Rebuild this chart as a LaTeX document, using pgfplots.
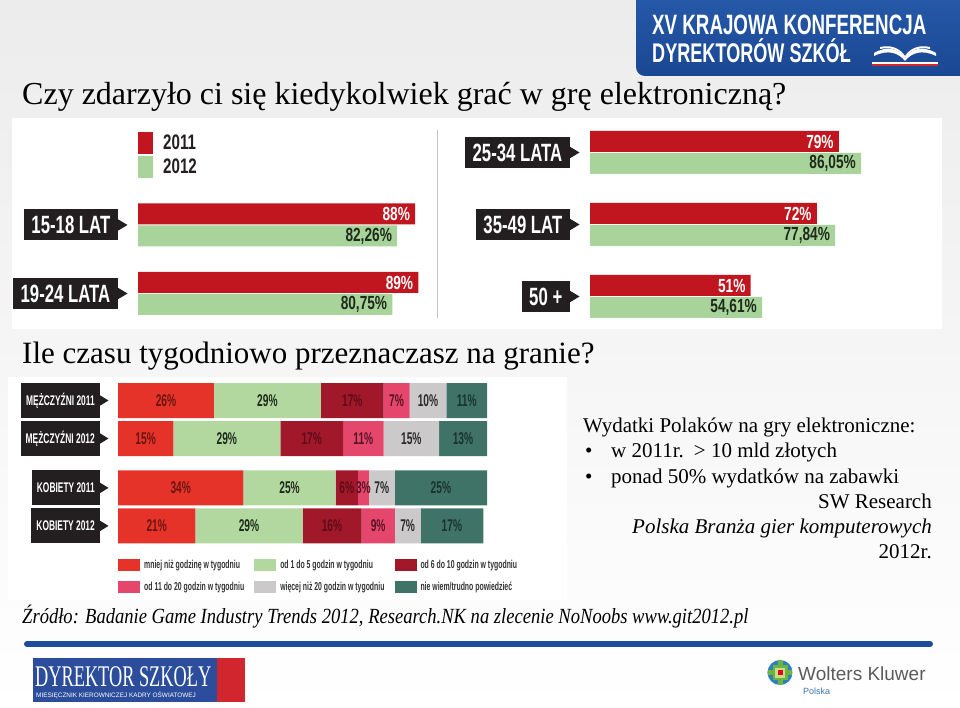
\documentclass[border=0pt]{standalone}
\usepackage{pgfplots}
\usepackage{pgfplotstable}
\pgfplotsset{compat=1.18}
\usepackage{fontspec}
\setmainfont{Liberation Serif}
\newfontfamily\condA{Liberation Sans}[UprightFont={* Bold}, FakeStretch=0.67]
\newfontfamily\condN{Liberation Sans}[UprightFont={* Bold}, FakeStretch=0.72]
\newfontfamily\condB{Liberation Sans}[UprightFont={* Bold}, FakeStretch=0.6]
\newfontfamily\srcfont{Liberation Serif}[UprightFont={* Italic}, FakeStretch=0.86]
\newfontfamily\logofont{Liberation Serif}[FakeStretch=0.61]
\newfontfamily\lsans{Liberation Sans}
\newcommand\fs[1]{\fontsize{#1}{#1}\selectfont}

\definecolor{bgtop}{HTML}{ECECEC}
\definecolor{bgmid}{HTML}{F2F2F2}
\definecolor{lblack}{HTML}{231F20}
\definecolor{tred}{HTML}{C1161F}
\definecolor{tgreen}{HTML}{A8D49C}
\definecolor{tgtext}{HTML}{1E2A1A}
\definecolor{sred}{HTML}{E6332A}
\definecolor{sgreen}{HTML}{B2D8A0}
\definecolor{sdred}{HTML}{A2182B}
\definecolor{spink}{HTML}{E5466B}
\definecolor{sgray}{HTML}{CBC9CA}
\definecolor{steal}{HTML}{3F7367}
\definecolor{tl1}{HTML}{6B1510}
\definecolor{tl2}{HTML}{1E2A1C}
\definecolor{tl3}{HTML}{5E0C16}
\definecolor{tl4}{HTML}{5A1326}
\definecolor{tl5}{HTML}{2A2A2A}
\definecolor{tl6}{HTML}{1B332D}
\definecolor{legtext}{HTML}{333333}
\definecolor{hblueT}{HTML}{2558A8}
\definecolor{hblueB}{HTML}{1A4793}
\definecolor{lineblue}{HTML}{1C4C9A}
\definecolor{dsblue}{HTML}{2B4D9B}
\definecolor{dsred}{HTML}{D1262E}
\definecolor{wkgray}{HTML}{5B5B5B}
\definecolor{wkblue}{HTML}{3C78B5}
\definecolor{wkblue2}{HTML}{2F7FC1}
\definecolor{wkgreen}{HTML}{6CB33F}
\definecolor{wklgreen}{HTML}{C6E08A}
\definecolor{wkred}{HTML}{E2001A}

% Czy zdarzylo ci sie ... (percent)
\pgfplotstableread{
pos red green
2 88 82.26
1 89 80.75
}\agesleft
\pgfplotstableread{
pos red green
3 79 86.05
2 72 77.84
1 51 54.61
}\agesright
% Ile czasu tygodniowo ... (percent)
\pgfplotstableread{
pos less one six eleven more dunno
4   26 29 17 7  10 11
3   15 29 17 11 15 13
1.7 34 25 6  3  7  25
0.7 21 29 16 9  7  17
}\hours

\pgfplotsset{
  catA/.style={anchor=east, xshift=-20pt, fill=lblack, text=white, font=\condA\fs{25},
    inner xsep=7.5pt, inner ysep=0pt, minimum height=31pt, text height=18pt, text depth=0pt},
  catB/.style={anchor=east, xshift=-18pt, fill=lblack, text=white, font=\condB\fs{14},
    inner xsep=5pt, inner ysep=0pt, minimum height=35pt, text height=10pt, text depth=0pt},
  hidden/.style={axis line style={draw=none}, major tick length=0pt, xtick=\empty,
    enlargelimits=false, clip=false, scale only axis,
    /pgf/number format/assume math mode=true},
  topbars/.style={hidden, xbar, bar width=21pt, width=315pt, xmin=0, xmax=100,
    yticklabel style={catA},
    legend style={draw=none, fill=none, inner sep=0pt, row sep=0pt,
      font=\condN\fs{21}, text=lblack,
      nodes={inner sep=0pt, text height=19.5pt, text depth=4.5pt},
      /tikz/every odd column/.append style={column sep=10pt}},
    legend cell align=left},
  toplegimg/.style={legend image code/.code={\fill[##1] (0pt,-11.5pt) rectangle (15pt,10.5pt);}},
  seglegimg/.style={legend image code/.code={\fill[##1] (0pt,-6pt) rectangle (22pt,6pt);}},
  red11/.style={fill=tred, draw=none, bar shift=11pt, toplegimg,
     nodes near coords={\pgfmathprintnumber[fixed,precision=0]{\pgfplotspointmeta}\%},
     every node near coord/.append style={anchor=east, text=white, font=\condN\fs{19}, inner xsep=5pt, inner ysep=0pt}},
  green12/.style={fill=tgreen, draw=none, bar shift=-11pt, toplegimg,
     nodes near coords={\pgfmathprintnumber[fixed,fixed zerofill,precision=2,use comma]{\pgfplotspointmeta}\%},
     every node near coord/.append style={anchor=east, text=tgtext, font=\condN\fs{19}, inner xsep=5pt, inner ysep=0pt}},
}

\newcommand\seg[4]{%
  \addplot[fill=#2, draw=none, seglegimg,
    point meta=explicit symbolic,
    nodes near coords={\pgfplotspointmeta\%},
    every node near coord/.append style={anchor=center, text=#3, font=\condB\fs{17}, inner sep=0pt}]
    table[x=#1, y=pos, meta=#1]{\hours};
  \addlegendentry{#4}
}
% small pointer triangle right of a label box: base x, centre y, width, height
\newcommand\ptr[4]{\fill[lblack] (#1,#2+#4/2) -- (#1+#3,#2) -- (#1,#2-#4/2) -- cycle;}

\begin{document}
\begin{tikzpicture}[x=1pt,y=1pt]
% background
\shade[top color=bgtop, middle color=bgmid, bottom color=white] (0,0) rectangle (960,-708);
\fill[white] (12,-118) rectangle (942,-329);
\fill[white] (8,-377) rectangle (567,-600);

% header
\shade[top color=hblueT, bottom color=hblueB] (960,0) -- (636,0) -- (636,-67) arc[start angle=180, end angle=270, radius=9] -- (960,-76) -- cycle;
\node[anchor=base west, inner sep=0, text=white] at (652,-35) {\condA\fs{28}XV KRAJOWA KONFERENCJA};
\node[anchor=base west, inner sep=0, text=white] at (652,-63) {\condA\fs{27}DYREKTORÓW SZKÓŁ};
% book icon
\fill[white] (874,-53) .. controls (888,-45) and (899,-49) .. (905,-58) .. controls (911,-49) and (922,-45) .. (936,-53) -- (936,-56) .. controls (922,-49) and (911,-53) .. (905,-61) .. controls (899,-53) and (888,-49) .. (874,-56) -- cycle;
\fill[white] (880,-47) .. controls (893,-44) and (901,-50) .. (905,-56) .. controls (909,-50) and (917,-44) .. (930,-47) -- (930,-49) .. controls (917,-46) and (909,-52) .. (905,-58) .. controls (901,-52) and (893,-46) .. (880,-49) -- cycle;
\fill[white] (872,-62) rectangle (938,-64);
\fill[dsred] (872,-64.5) rectangle (938,-66.5);

% titles
\node[anchor=base west, inner sep=0] at (22,-105) {\fs{32}Czy zdarzyło ci się kiedykolwiek grać w grę elektroniczną?};
\node[anchor=base west, inner sep=0] at (22,-363) {\fs{31}Ile czasu tygodniowo przeznaczasz na granie?};

% divider
\draw[line width=0.8pt, gray!45] (437,-130) -- (437,-318);

% top-left bars
\begin{axis}[topbars, at={(138pt,-190.75pt)}, anchor=north west, height=137pt,
  ymin=0.5, ymax=2.5, ytick={1,2}, yticklabels={19-24 LATA,15-18 LAT},
  legend style={at={(axis description cs:0,1.4434)}, anchor=north west}]
\addplot[red11] table[x=red, y=pos]{\agesleft};
\addlegendentry{2011}
\addplot[green12] table[x=green, y=pos]{\agesleft};
\addlegendentry{2012}
\end{axis}

% top-right bars
\begin{axis}[topbars, at={(590pt,-116.5pt)}, anchor=north west, height=216pt,
  ymin=0.5, ymax=3.5, ytick={1,2,3}, yticklabels={50 +,35-49 LAT,25-34 LATA}]
\addplot[red11] table[x=red, y=pos]{\agesright};
\addplot[green12] table[x=green, y=pos]{\agesright};
\end{axis}

% stacked bars
\begin{axis}[hidden, xbar stacked, bar width=35pt, width=369pt, height=163.4pt,
  at={(118pt,-381.5pt)}, anchor=north west, xmin=0, xmax=100, ymin=0.2, ymax=4.5,
  ytick={4,3,1.7,0.7},
  yticklabels={MĘŻCZYŹNI 2011,MĘŻCZYŹNI 2012,KOBIETY 2011,KOBIETY 2012},
  yticklabel style={catB},
  legend columns=3,
  legend style={at={(axis description cs:0,-0.0863)}, anchor=north west, draw=none, fill=none,
    inner sep=0pt, row sep=9.5pt, font=\condB\fs{11.5}, text=legtext,
    nodes={inner sep=0pt, text height=9.5pt, text depth=2.5pt},
    /tikz/every odd column/.append style={column sep=4pt},
    /tikz/every even column/.append style={column sep=10pt}},
  legend cell align=left]
\seg{less}{sred}{tl1}{mniej niż godzinę w tygodniu}
\seg{one}{sgreen}{tl2}{od 1 do 5 godzin w tygodniu}
\seg{six}{sdred}{tl3}{od 6 do 10 godzin w tygodniu}
\seg{eleven}{spink}{tl4}{od 11 do 20 godzin w tygodniu}
\seg{more}{sgray}{tl5}{więcej niż 20 godzin w tygodniu}
\seg{dunno}{steal}{tl6}{nie wiem/trudno powiedzieć}
\end{axis}

% pointer triangles of the category boxes
\ptr{117.5}{-225}{10}{12}
\ptr{117.5}{-293.5}{10}{12}
\ptr{569.5}{-152.5}{10}{12}
\ptr{569.5}{-224.5}{10}{12}
\ptr{569.5}{-296.5}{10}{12}
\ptr{99.5}{-400.5}{9}{11}
\ptr{99.5}{-438.5}{9}{11}
\ptr{99.5}{-487.9}{9}{11}
\ptr{99.5}{-525.9}{9}{11}

% right text block
\node[anchor=base west, inner sep=0] at (583,-432) {\fs{21}Wydatki Polaków na gry elektroniczne:};
\node[anchor=base west, inner sep=0] at (585,-457) {\fs{21}•};
\node[anchor=base west, inner sep=0] at (611,-457) {\fs{21}w 2011r.\hspace{10pt}> 10 mld złotych};
\node[anchor=base west, inner sep=0] at (585,-483) {\fs{21}•};
\node[anchor=base west, inner sep=0] at (611,-483) {\fs{21}ponad 50\% wydatków na zabawki};
\node[anchor=base east, inner sep=0] at (932,-508) {\fs{21}SW Research};
\node[anchor=base east, inner sep=0] at (932,-533) {\fs{21}\itshape Polska Branża gier komputerowych};
\node[anchor=base east, inner sep=0] at (932,-558) {\fs{21}2012r.};

% source
\node[anchor=base west, inner sep=0] at (22,-623) {\srcfont\fs{21.6}Źródło: Badanie Game Industry Trends 2012, Research.NK na zlecenie NoNoobs www.git2012.pl};

% bottom line
\draw[line width=6pt, lineblue, line cap=round] (27,-644) -- (930,-644);

% Dyrektor Szkoly logo
\fill[dsblue] (33,-658) rectangle (217,-702);
\fill[dsred] (217,-658) rectangle (245,-702);
\node[anchor=base west, inner sep=0, text=white] at (35,-686) {\logofont\fs{30}DYREKTOR SZKOŁY};
\node[anchor=base west, inner sep=0, text=white] at (36,-697.5) {\lsans\fs{6.4}MIESIĘCZNIK KIEROWNICZEJ KADRY OŚWIATOWEJ};

% Wolters Kluwer logo
\begin{scope}
\clip (780,-672.5) circle (12.5);
\fill[wkblue2] (767,-660) rectangle (793,-685);
\fill[wkgreen] (777.5,-659) rectangle (782.5,-686);
\fill[wkgreen] (766,-670) rectangle (794,-675);
\fill[wkgreen] (772.5,-665) rectangle (787.5,-680);
\fill[wklgreen] (775,-667.5) rectangle (785,-677.5);
\fill[wkred] (777.5,-670) rectangle (782.5,-675);
\end{scope}
\node[anchor=base west, inner sep=0, text=wkgray] at (798,-680) {\lsans\fs{19}Wolters Kluwer};
\node[anchor=base west, inner sep=0, text=wkblue] at (803,-694) {\lsans\fs{9}Polska};

\pgfresetboundingbox
\useasboundingbox (0,0) rectangle (960,-708);
\end{tikzpicture}
\end{document}
